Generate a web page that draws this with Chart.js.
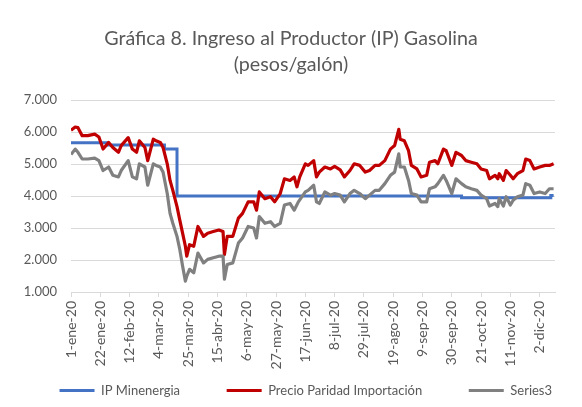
<!DOCTYPE html>
<html>
<head>
<meta charset="utf-8">
<script src="https://cdn.jsdelivr.net/npm/chart.js@4.4.0/dist/chart.umd.min.js"></script>
<style>
  body { margin: 0; background: #fff; }
  #wrap { width: 582px; height: 407px; }
</style>
</head>
<body>
<div id="wrap"><canvas id="chart" width="582" height="407"></canvas></div>
<script>
// tick labels every 21 days from 1-ene-20
const tickDays = [0, 21, 42, 63, 84, 105, 126, 147, 168, 189, 210, 231, 252, 273, 294, 315, 336];
const tickLabels = ['1-ene-20', '22-ene-20', '12-feb-20', '4-mar-20', '25-mar-20', '15-abr-20', '6-may-20',
  '27-may-20', '17-jun-20', '8-jul-20', '29-jul-20', '19-ago-20', '9-sep-20', '30-sep-20', '21-oct-20',
  '11-nov-20', '2-dic-20'];

// IP Minenergia (step values, day of change)
const ipDays = [0, 26, 67, 76, 280, 344, 346];
const ipValues = [5670, 5600, 5470, 4000, 3950, 4020, 4020];

// Precio Paridad Importación
const ppiDays = [0, 3, 5, 8, 12, 17, 20, 23, 27, 30, 34, 36, 41, 44, 47, 49, 53, 55, 59, 61, 64, 66, 69, 71, 73,
  76, 78, 80, 82, 83, 85, 88, 91, 95, 98, 102, 106, 109, 110, 112, 116, 120, 123, 127, 131, 133, 135, 139, 143,
  146, 150, 153, 157, 160, 162, 164, 168, 170, 174, 176, 178, 182, 186, 189, 193, 196, 200, 203, 207, 211, 214,
  218, 221, 225, 229, 232, 235, 236, 239, 242, 244, 248, 251, 255, 257, 261, 263, 267, 269, 273, 276, 280, 283,
  287, 291, 294, 298, 300, 304, 306, 307, 310, 312, 315, 317, 320, 324, 326, 329, 332, 336, 340, 343, 346];
const ppiValues = [6060, 6160, 6140, 5890, 5890, 5940, 5850, 5470, 5680, 5520, 5370, 5580, 5830, 5470, 5370, 5730,
  5520, 5110, 5780, 5730, 5680, 5520, 5010, 4490, 4180, 3670, 3250, 2840, 2430, 2120, 2480, 2430, 3050, 2740,
  2840, 2890, 2940, 2890, 2170, 2740, 2740, 3310, 3460, 3820, 3820, 3560, 4130, 3920, 3980, 3820, 4080, 4540,
  4490, 4600, 4290, 4600, 5010, 4960, 5110, 4600, 4750, 4910, 4850, 4930, 4820, 4600, 4800, 5010, 4960, 4750,
  4800, 4960, 4960, 5110, 5470, 5580, 6090, 5780, 5730, 5420, 4960, 4850, 4600, 4650, 5060, 5110, 5010, 5470,
  5420, 4960, 5370, 5270, 5110, 5060, 5010, 4850, 4800, 4540, 4650, 4540, 4700, 4490, 4800, 4650, 4540, 4700,
  4800, 5160, 5110, 4850, 4910, 4960, 4960, 5010];

// Series3
const s3Days = [0, 3, 5, 8, 12, 17, 20, 23, 27, 30, 34, 36, 41, 44, 47, 49, 53, 55, 59, 61, 64, 66, 69, 71, 73,
  76, 78, 80, 82, 83, 85, 88, 91, 95, 98, 102, 106, 109, 110, 112, 116, 120, 123, 127, 131, 133, 135, 139, 143,
  146, 150, 153, 157, 160, 163, 168, 170, 174, 176, 178, 182, 186, 189, 193, 196, 200, 203, 207, 211, 214, 218,
  221, 225, 229, 232, 235, 236, 239, 242, 244, 248, 251, 255, 257, 261, 263, 267, 269, 273, 276, 280, 283, 287,
  291, 294, 298, 300, 304, 306, 307, 310, 312, 315, 317, 320, 324, 326, 329, 332, 336, 340, 343, 346];
const s3Values = [5300, 5470, 5370, 5160, 5160, 5190, 5110, 4800, 4910, 4650, 4600, 4800, 5110, 4600, 4540, 5010,
  4910, 4340, 5010, 4960, 4910, 4750, 4080, 3460, 3150, 2740, 2330, 1810, 1340, 1500, 1710, 1600, 2220, 1910,
  2020, 2070, 2120, 2120, 1400, 1860, 1910, 2530, 2690, 3050, 3000, 2690, 3360, 3150, 3200, 3050, 3150, 3720,
  3770, 3560, 3820, 4130, 4180, 4340, 3820, 3770, 4130, 4030, 4080, 4030, 3820, 4080, 4180, 4080, 3920, 4030,
  4180, 4180, 4390, 4650, 4750, 5320, 4910, 4910, 4490, 4080, 4030, 3820, 3820, 4230, 4290, 4390, 4650, 4490,
  4080, 4540, 4390, 4290, 4230, 4180, 4030, 3920, 3690, 3770, 3670, 3920, 3690, 3980, 3720, 3870, 3980, 4030,
  4390, 4340, 4080, 4130, 4080, 4230, 4230];

const toPoints = (days, values) => days.map((d, i) => ({ x: d, y: values[i] }));

const fmt = (v) => String(v).replace(/\B(?=(\d{3})+(?!\d))/g, '.');
const textColor = '#595959';
const fontFamily = 'Lato, "Liberation Sans", sans-serif';
const legendFont = { family: fontFamily, size: 13 };

// legend items sit far apart in the original; pad each label with trailing spaces
const legendGap = [38, 36, 20];
const padLabels = (chart) => {
  const items = Chart.defaults.plugins.legend.labels.generateLabels(chart);
  const ctx = chart.ctx;
  ctx.save();
  ctx.font = `${legendFont.size}px ${legendFont.family}`;
  const spaceW = ctx.measureText(' ').width || 3;
  ctx.restore();
  items.forEach((item) => {
    item.text = item.text + ' '.repeat(Math.round(legendGap[item.datasetIndex] / spaceW));
  });
  return items;
};

new Chart(document.getElementById('chart'), {
  type: 'line',
  data: {
    datasets: [
      {
        label: 'IP Minenergia',
        data: toPoints(ipDays, ipValues),
        borderColor: '#4472C4',
        backgroundColor: '#4472C4',
        borderWidth: 3,
        stepped: 'before',
        pointRadius: 0,
        order: 3
      },
      {
        label: 'Precio Paridad Importación',
        data: toPoints(ppiDays, ppiValues),
        borderColor: '#C00000',
        backgroundColor: '#C00000',
        borderWidth: 3.2,
        borderJoinStyle: 'round',
        pointRadius: 0,
        order: 2
      },
      {
        label: 'Series3',
        data: toPoints(s3Days, s3Values),
        borderColor: '#808080',
        backgroundColor: '#808080',
        borderWidth: 3.2,
        borderJoinStyle: 'round',
        pointRadius: 0,
        order: 1
      }
    ]
  },
  options: {
    responsive: false,
    animation: false,
    devicePixelRatio: 1,
    layout: { padding: 0 },
    scales: {
      x: {
        type: 'linear',
        min: 0,
        max: 347,
        afterBuildTicks: (scale) => { scale.ticks = tickDays.map(v => ({ value: v })); },
        afterFit: (scale) => { scale.height = 82; },
        ticks: {
          autoSkip: false,
          maxRotation: 90,
          minRotation: 90,
          padding: 4,
          color: textColor,
          font: { family: fontFamily, size: 14 },
          callback: (v) => tickLabels[tickDays.indexOf(v)]
        },
        grid: { drawOnChartArea: false, drawTicks: true, tickLength: 5, color: '#D9D9D9' },
        border: { display: true, color: '#D9D9D9', width: 1 }
      },
      y: {
        min: 1000,
        max: 7000,
        afterFit: (scale) => { scale.width = 71; },
        ticks: {
          stepSize: 1000,
          autoSkip: false,
          padding: 14,
          color: textColor,
          font: { family: fontFamily, size: 13 },
          callback: (v) => fmt(v)
        },
        grid: { color: '#D9D9D9', drawTicks: false },
        border: { display: false }
      },
      // empty right margin so the title centres on the full width
      yRight: {
        position: 'right',
        display: true,
        afterFit: (scale) => { scale.width = 27; },
        ticks: { display: false },
        grid: { display: false },
        border: { display: false }
      }
    },
    plugins: {
      title: {
        display: true,
        text: ['Gráfica 8. Ingreso al Productor (IP) Gasolina', '(pesos/galón)'],
        color: textColor,
        font: { family: fontFamily, size: 19.7, weight: 'normal', lineHeight: 1.35 },
        padding: { top: 25, bottom: 22 }
      },
      legend: {
        position: 'bottom',
        align: 'end',
        labels: {
          usePointStyle: true,
          pointStyle: 'line',
          pointStyleWidth: 35,
          padding: 10,
          color: textColor,
          font: legendFont,
          generateLabels: padLabels,
          sort: (a, b) => a.datasetIndex - b.datasetIndex
        }
      },
      tooltip: { enabled: false }
    }
  }
});
</script>
</body>
</html>
